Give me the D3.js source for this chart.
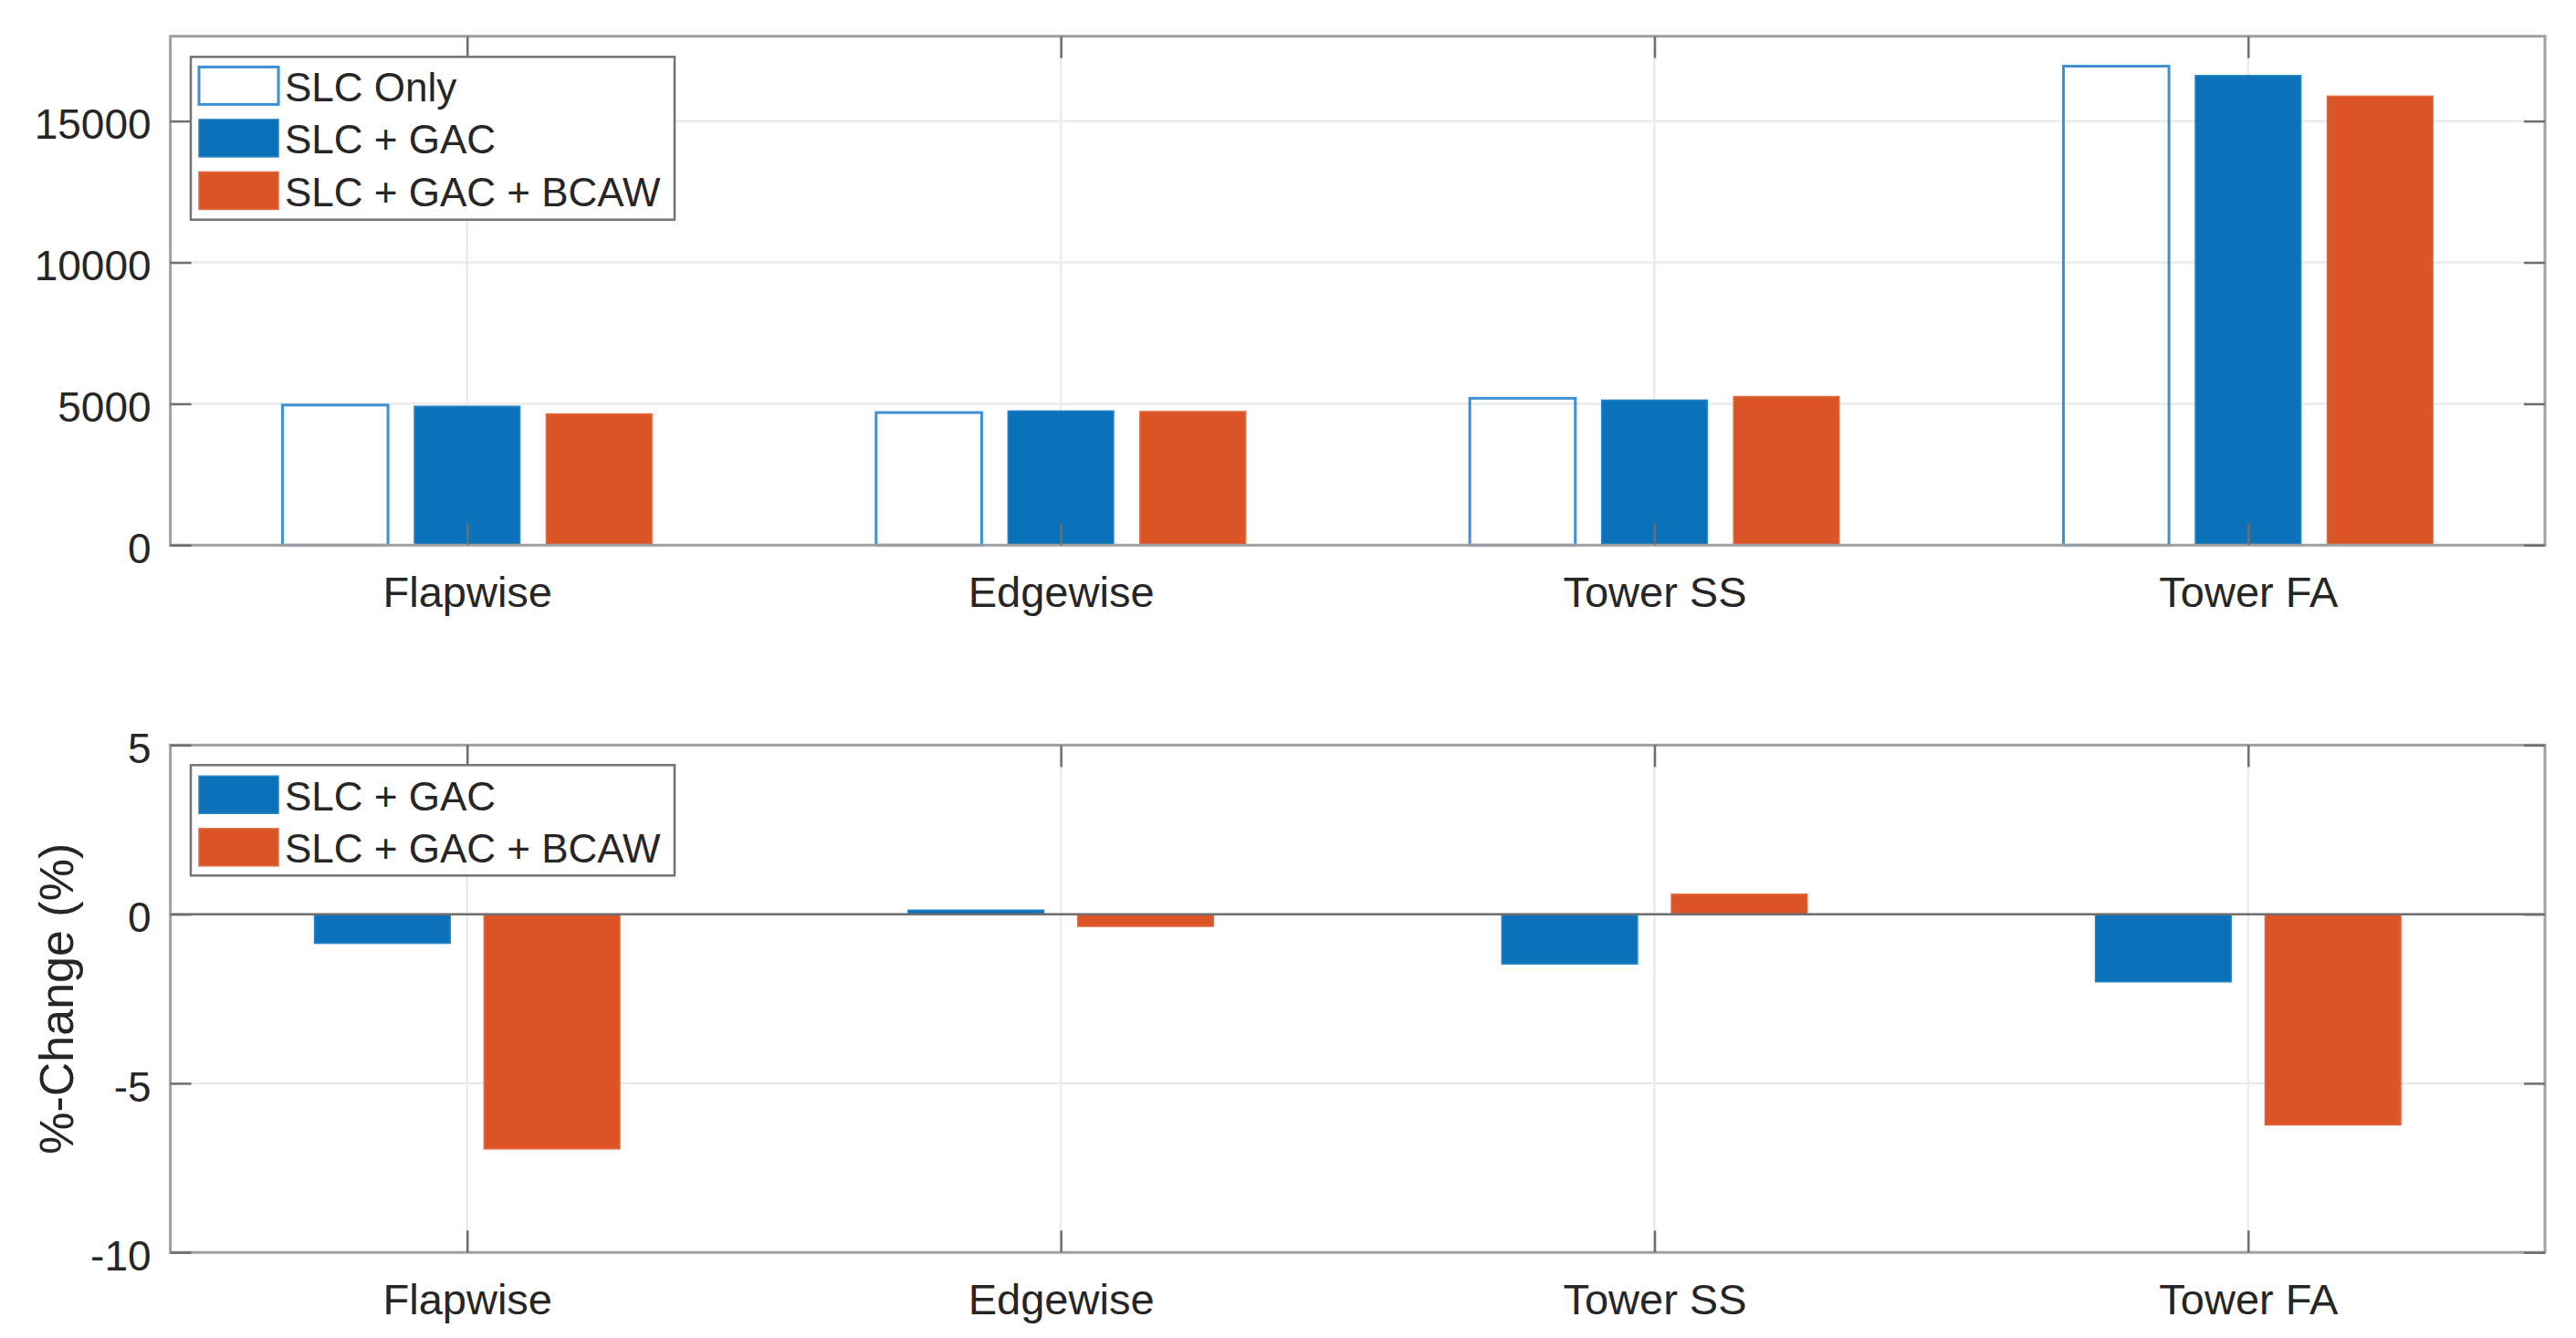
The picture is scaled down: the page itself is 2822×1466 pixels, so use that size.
<!DOCTYPE html>
<html>
<head>
<meta charset="utf-8">
<script src="https://cdn.jsdelivr.net/npm/d3@7"></script>
<style>
  body { margin: 0; background: #fff; }
  text { font-family: "Liberation Sans", Arial, sans-serif; fill: #262626; }
</style>
</head>
<body>
<div id="chart"></div>
<script>
// values
const categories = ["Flapwise", "Edgewise", "Tower SS", "Tower FA"]
const loadSeries = ["SLC Only", "SLC + GAC", "SLC + GAC + BCAW"]
const slcOnly = [4955, 4690, 5195, 16940]
const slcGac = [4910, 4745, 5130, 16610]
const slcGacBcaw = [4640, 4725, 5255, 15880]
const loadTicks = [0, 5000, 10000, 15000]

const changeSeries = ["SLC + GAC", "SLC + GAC + BCAW"]
const changeGac = [-0.86, 0.12, -1.47, -2.0]
const changeGacBcaw = [-6.94, -0.36, 0.59, -6.23]
const changeTicks = [-10, -5, 0, 5]

const blue = "#0b72b9"
const orange = "#db5426"
const outlineBlue = "#3d90d4"

const W = 2822, H = 1466

const svg = d3.select("#chart")
              .append("svg")
              .attr("width", W)
              .attr("height", H)

function drawPanel(cfg) {
    const left = 186.6, right = 2788
    const g = svg.append("g")

    const x = d3.scaleLinear()
                .domain([0.5, categories.length + 0.5])
                .range([left, right])

    const y = d3.scaleLinear()
                .domain(cfg.domain)
                .range([cfg.bottom, cfg.top])

    const n = cfg.series.length
    const groupUnits = Math.min(0.8, n / (n + 1.5))
    const groupPx = x(1 + groupUnits / 2) - x(1 - groupUnits / 2)
    const inner = d3.scaleBand()
                    .domain(cfg.series)
                    .range([-groupPx / 2, groupPx / 2])
                    .paddingInner(0.2)
                    .paddingOuter(0.1)

    // grid
    g.append("g").selectAll("line")
     .data(cfg.ticks)
     .join("line")
     .attr("x1", left).attr("x2", right)
     .attr("y1", d => y(d)).attr("y2", d => y(d))
     .attr("stroke", "#ebebeb").attr("stroke-width", 2.5)

    g.append("g").selectAll("line")
     .data(d3.range(1, categories.length + 1))
     .join("line")
     .attr("x1", d => x(d)).attr("x2", d => x(d))
     .attr("y1", cfg.top).attr("y2", cfg.bottom)
     .attr("stroke", "#ebebeb").attr("stroke-width", 2.5)

    // bars
    const rows = []
    cfg.series.forEach((s, si) => {
        cfg.values[si].forEach((v, ci) => rows.push({ s, si, ci, v }))
    })

    g.append("g").selectAll("rect")
     .data(rows)
     .join("rect")
     .attr("x", d => x(d.ci + 1) + inner(d.s))
     .attr("width", inner.bandwidth())
     .attr("y", d => y(Math.max(0, d.v)))
     .attr("height", d => Math.abs(y(d.v) - y(0)))
     .attr("fill", d => cfg.fills[d.si])
     .attr("stroke", d => cfg.strokes[d.si])
     .attr("stroke-width", d => cfg.fills[d.si] === "none" ? 3 : 1.5)

    // zero baseline
    if (cfg.domain[0] < 0) {
        g.append("line")
         .attr("x1", left).attr("x2", right)
         .attr("y1", y(0)).attr("y2", y(0))
         .attr("stroke", "#6e6e6e").attr("stroke-width", 2.5)
    }

    // box
    g.append("rect")
     .attr("x", left).attr("y", cfg.top)
     .attr("width", right - left).attr("height", cfg.bottom - cfg.top)
     .attr("fill", "none").attr("stroke", "#a0a0a0").attr("stroke-width", 3)

    const styleAxis = sel => {
        sel.select(".domain").remove()
        sel.selectAll(".tick line").attr("stroke", "#6e6e6e").attr("stroke-width", 2.5)
        sel.selectAll(".tick text").attr("fill", "#262626")
    }

    g.append("g")
     .attr("transform", "translate(" + left + ",0)")
     .call(d3.axisLeft(y).tickValues(cfg.ticks).tickSize(-23).tickPadding(21)
                         .tickFormat(d => String(d)))
     .call(styleAxis)
     .call(a => a.selectAll(".tick text").attr("font-size", 46).attr("dy", "0.42em")
                 .attr("font-family", '"Liberation Sans", Arial, sans-serif'))

    g.append("g")
     .attr("transform", "translate(" + right + ",0)")
     .call(d3.axisRight(y).tickValues(cfg.ticks).tickSize(-23).tickFormat(""))
     .call(styleAxis)

    g.append("g")
     .attr("transform", "translate(0," + cfg.bottom + ")")
     .call(d3.axisBottom(x).tickValues(d3.range(1, categories.length + 1))
                           .tickSize(-24).tickPadding(34)
                           .tickFormat(i => categories[i - 1]))
     .call(styleAxis)
     .call(a => a.selectAll(".tick text").attr("font-size", 47)
                 .attr("font-family", '"Liberation Sans", Arial, sans-serif'))

    g.append("g")
     .attr("transform", "translate(0," + cfg.top + ")")
     .call(d3.axisTop(x).tickValues(d3.range(1, categories.length + 1))
                        .tickSize(-24).tickFormat(""))
     .call(styleAxis)

    // legend
    const lg = g.append("g")
    lg.append("rect")
      .attr("x", 209).attr("y", cfg.legendTop)
      .attr("width", 530).attr("height", cfg.legendHeight)
      .attr("fill", "#fff").attr("stroke", "#737373").attr("stroke-width", 2.5)

    const items = lg.selectAll("g.item")
                    .data(cfg.series)
                    .join("g")
                    .attr("class", "item")
                    .attr("transform", (d, i) => "translate(0," + (cfg.legendTop + cfg.legendFirst + i * 57.5) + ")")

    items.append("rect")
         .attr("x", 218).attr("y", -20.5)
         .attr("width", 87).attr("height", 41)
         .attr("fill", (d, i) => cfg.fills[i] === "none" ? "#fff" : cfg.fills[i])
         .attr("stroke", (d, i) => cfg.strokes[i])
         .attr("stroke-width", (d, i) => cfg.fills[i] === "none" ? 3 : 1.5)

    items.append("text")
         .attr("x", 312).attr("y", 17)
         .attr("font-size", 44)
         .text(d => d)

    if (cfg.yLabel) {
        g.append("text")
         .attr("transform", "translate(80," + (cfg.top + cfg.bottom) / 2 + ") rotate(-90)")
         .attr("text-anchor", "middle")
         .attr("font-size", 52)
         .text(cfg.yLabel)
    }
}

drawPanel({
    top: 39.7, bottom: 597.3,
    domain: [0, 18000],
    ticks: loadTicks,
    series: loadSeries,
    values: [slcOnly, slcGac, slcGacBcaw],
    fills: ["none", blue, orange],
    strokes: [outlineBlue, "#2a85c8", "#e46a40"],
    legendTop: 62.3, legendHeight: 178.4, legendFirst: 31.6
})

drawPanel({
    top: 816.4, bottom: 1372.2,
    domain: [-10, 5],
    ticks: changeTicks,
    series: changeSeries,
    values: [changeGac, changeGacBcaw],
    fills: [blue, orange],
    strokes: ["#2a85c8", "#e46a40"],
    legendTop: 838.3, legendHeight: 121, legendFirst: 32.5,
    yLabel: "%-Change (%)"
})
</script>
</body>
</html>
